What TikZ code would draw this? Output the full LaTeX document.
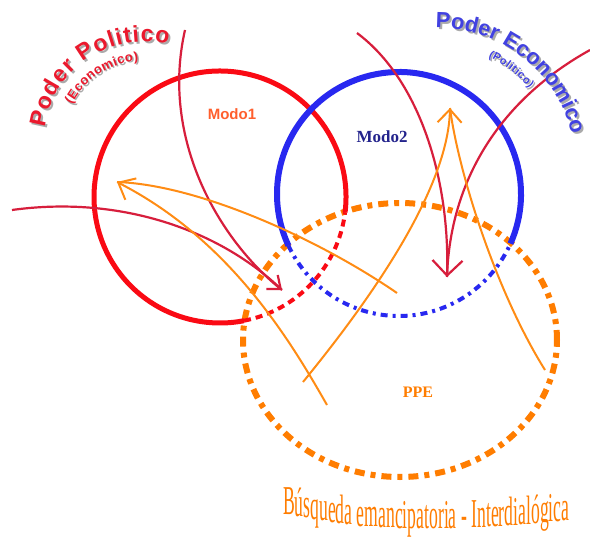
\documentclass[tikz,border=0pt]{standalone}
\usepackage{fontspec}
\usepackage{graphicx}
\setmainfont{Liberation Serif}
\newfontfamily\arialf{Liberation Sans}
\usetikzlibrary{decorations.text,arrows.meta}
\definecolor{cred}{RGB}{250,10,20}
\definecolor{cblue}{RGB}{40,40,240}
\definecolor{thinred}{RGB}{215,30,60}
\definecolor{corange}{RGB}{255,140,20}
\definecolor{dorange}{RGB}{255,125,0}
\definecolor{navytxt}{RGB}{35,35,140}
\definecolor{titlered}{RGB}{235,25,45}
\definecolor{titleblue}{RGB}{65,65,225}
\definecolor{modoone}{RGB}{255,95,45}
\definecolor{shadowgray}{RGB}{170,170,170}
\newcommand{\condword}[1]{\scalebox{0.43}[1]{\fontsize{41}{41}\selectfont #1}}
\newcommand{\bwpiece}[4]{\node[bottomword] (#1) at (#2.base east |- 0,-#3) {\condword{#4}};}
\begin{document}
\begin{tikzpicture}[x=1pt,y=1pt,
  thinredline/.style={draw=thinred, line width=2.2pt},
  thinorline/.style={draw=corange, line width=2pt},
  arctext/.style={decorate, decoration={text along path, text align=fit to path, text={#1}}},
  bottomword/.style={anchor=base west, inner sep=0pt, outer sep=0pt, text=dorange}
]
\useasboundingbox (0,0) rectangle (590,-538);
\fill[white] (0,0) rectangle (590,-538);

% PPE ellipse
\draw[dorange, line width=6pt, dash pattern=on 10pt off 6pt on 5pt off 6pt] (400,-340) ellipse[x radius=157, y radius=137];

% Modo1 circle
\coordinate (c1) at (220,-197);
\draw[cred, line width=5pt] (c1) ++(-7:126) arc[start angle=-7,end angle=281,radius=126];
\draw[cred, line width=4pt, dash pattern=on 7pt off 5pt] (c1) ++(281:126) arc[start angle=281,end angle=353,radius=126];

% Modo2 circle
\coordinate (c2) at (399,-194);
\draw[cblue, line width=6pt] (c2) ++(-24:122) arc[start angle=-24,end angle=205,radius=122];
\draw[cblue, line width=4pt, dash pattern=on 7pt off 5pt on 3pt off 5pt] (c2) ++(205:122) arc[start angle=205,end angle=336,radius=122];

% coordinates of connector ends
\coordinate (r1s) at (185,-30);
\coordinate (r2s) at (12,-210);
\coordinate (rt1) at (282,-290);
\coordinate (r3s) at (357,-33);
\coordinate (r4s) at (590,-50);
\coordinate (rt2) at (447,-277);
\coordinate (ot1) at (117,-182);
\coordinate (a1e) at (397,-293);
\coordinate (a2e) at (327,-405);
\coordinate (ot2) at (450,-108);
\coordinate (b1e) at (303,-382);
\coordinate (b2e) at (545,-370);

% red curves
\draw[thinredline, -{Straight Barb[length=11pt,width=18pt]}] (r1s) .. controls (160,-140) and (220,-240) .. (rt1);
\draw[thinredline] (r2s) .. controls (120,-195) and (220,-230) .. (rt1);
\draw[thinredline, -{Straight Barb[length=15pt,width=30pt]}] (r3s) .. controls (420,-80) and (450,-180) .. (rt2);
\draw[thinredline] (r4s) .. controls (500,-100) and (450,-180) .. (rt2);

% orange curves
\draw[thinorline] (ot1) .. controls (200,-185) and (320,-240) .. (a1e);
\draw[thinorline, {Straight Barb[length=14pt,width=24pt]}-] (ot1) .. controls (230,-240) and (290,-340) .. (a2e);
\draw[thinorline, {Straight Barb[length=13pt,width=24pt]}-] (ot2) .. controls (448,-190) and (370,-300) .. (b1e);
\draw[thinorline] (ot2) .. controls (458,-170) and (495,-290) .. (b2e);

% labels
\node[text=modoone, font=\arialf\bfseries\fontsize{15}{15}\selectfont] (m1) at (232,-114) {Modo1};
\node[text=navytxt, font=\bfseries\fontsize{17}{17}\selectfont] (m2) at (382,-137) {Modo2};
\node[text=dorange, font=\bfseries\fontsize{16}{16}\selectfont] (ppe) at (418,-392) {PPE};

% arced titles (shadow then text)
\path[arctext={|\arialf\bfseries\fontsize{23}{23}\selectfont\color{shadowgray}|Poder Politico}] (146,-143.5) ++(172:100) arc[start angle=172,end angle=76,radius=100];
\path[arctext={|\arialf\bfseries\fontsize{23}{23}\selectfont\color{titlered}|Poder Politico}] (144,-141.5) ++(172:100) arc[start angle=172,end angle=76,radius=100];
\path[arctext={|\arialf\bfseries\fontsize{13}{13}\selectfont\color{shadowgray}|(Economico)}] (145.5,-143) ++(153:81) arc[start angle=153,end angle=94,radius=81];
\path[arctext={|\arialf\bfseries\fontsize{13}{13}\selectfont\color{titlered}|(Economico)}] (144,-141.5) ++(153:81) arc[start angle=153,end angle=94,radius=81];

\path[arctext={|\arialf\bfseries\fontsize{22}{22}\selectfont\color{shadowgray}|Poder Economico}] (440,-167) ++(91:137) arc[start angle=91,end angle=13,radius=137];
\path[arctext={|\arialf\bfseries\fontsize{22}{22}\selectfont\color{titleblue}|Poder Economico}] (438,-165) ++(91:137) arc[start angle=91,end angle=13,radius=137];
\path[arctext={|\arialf\bfseries\fontsize{11}{11}\selectfont\color{shadowgray}|(Politico)}] (439.5,-166.5) ++(65:119) arc[start angle=65,end angle=40,radius=119];
\path[arctext={|\arialf\bfseries\fontsize{11}{11}\selectfont\color{titleblue}|(Politico)}] (438,-165) ++(65:119) arc[start angle=65,end angle=40,radius=119];

% bottom text: upright letters whose baseline follows a gentle arch
\begin{scope}[yshift=2pt]
\node[bottomword] (b1) at (283,-516.3) {\condword{B}};
\bwpiece{b2}{b1}{518.4}{ú}
\bwpiece{b3}{b2}{519.9}{s}
\bwpiece{b4}{b3}{521.3}{q}
\bwpiece{b5}{b4}{522.8}{u}
\bwpiece{b6}{b5}{524.0}{e}
\bwpiece{b7}{b6}{525.2}{d}
\bwpiece{b8}{b7}{526.2}{a\ }
\bwpiece{b9}{b8}{528.3}{em}
\bwpiece{b10}{b9}{529.7}{an}
\bwpiece{b11}{b10}{530.5}{cip}
\bwpiece{b12}{b11}{530.8}{ator}
\bwpiece{b13}{b12}{530.5}{ia\ }
\bwpiece{b14}{b13}{530.0}{-\ }
\bwpiece{b15}{b14}{529.4}{In}
\bwpiece{b16}{b15}{528.7}{te}
\bwpiece{b17}{b16}{528.1}{r}
\bwpiece{b18}{b17}{527.6}{d}
\bwpiece{b19}{b18}{527.1}{i}
\bwpiece{b20}{b19}{526.6}{a}
\bwpiece{b21}{b20}{526.0}{l}
\bwpiece{b22}{b21}{525.4}{ó}
\bwpiece{b23}{b22}{524.5}{g}
\bwpiece{b24}{b23}{523.7}{i}
\bwpiece{b25}{b24}{523.0}{c}
\bwpiece{b26}{b25}{522.0}{a}
\end{scope}
\end{tikzpicture}
\end{document}
